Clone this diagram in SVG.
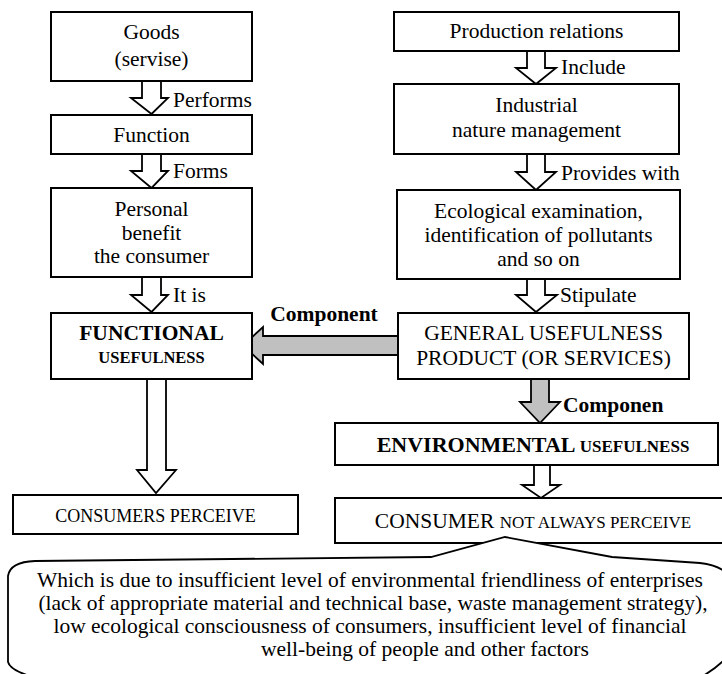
<svg xmlns="http://www.w3.org/2000/svg" width="722" height="674" viewBox="0 0 722 674">
<style>
rect{fill:#fff;stroke:#000;stroke-width:2}
.ar{fill:#fff;stroke:#000;stroke-width:1.8;stroke-linejoin:miter}
.g{fill:#c0c0c0;stroke:#000;stroke-width:1.8}
.co{fill:#fff;stroke:#000;stroke-width:1.8}
</style>
<rect x="0" y="0" width="722" height="674" style="fill:#fff;stroke:none"/>
<g id="connectors">
<polygon class="ar" points="142,81 161,81 161,98 168,98 151.5,114 131,98 142,98"/>
<polygon class="ar" points="142,154 161,154 161,171 168,171 151.5,188 131,171 142,171"/>
<polygon class="ar" points="142,277 161,277 161,295 168,295 151.5,312 131,295 142,295"/>
<polygon class="ar" points="147,379 166,379 166,470 176,470 156,493 137,470 147,470"/>
<polygon class="ar" points="527,51 545,51 545,68 556,68 536,84 516,68 527,68"/>
<polygon class="ar" points="527,154 545,154 545,172 556,172 536,190 516,172 527,172"/>
<polygon class="ar" points="527,279 545,279 545,295 557,295 536,312 516,295 527,295"/>
<polygon class="g" points="531,379 549,379 549,402 560,402 540,423 520,402 531,402"/>
<polygon class="ar" points="534,465 550,465 550,485 560,485 541,498 522,485 534,485"/>
<polygon class="g" points="403,336 263,336 263,327 243,345.5 263,364 263,355 403,355"/>
<text font-family="Liberation Serif" font-size="21.5" x="173" y="107">Performs</text>
<text font-family="Liberation Serif" font-size="21.5" x="173" y="178">Forms</text>
<text font-family="Liberation Serif" font-size="21.5" x="173" y="302">It is</text>
<text font-family="Liberation Serif" font-size="21.5" x="561" y="74">Include</text>
<text font-family="Liberation Serif" font-size="21.5" x="561" y="180">Provides with</text>
<text font-family="Liberation Serif" font-size="21.5" x="560" y="302">Stipulate</text>
<text font-family="Liberation Serif" font-size="21.5" font-weight="bold" x="563" y="412">Componen</text>
<text font-family="Liberation Serif" font-size="21.5" font-weight="bold" text-anchor="middle" x="324" y="321">Component</text>
</g>
<g id="goods">
<rect x="51" y="12" width="201" height="69"/>
<text font-family="Liberation Serif" font-size="21.5" text-anchor="middle" x="151.5" y="39">Goods</text>
<text font-family="Liberation Serif" font-size="21.5" text-anchor="middle" x="151.5" y="66">(servise)</text>
</g>
<g id="function">
<rect x="51" y="115" width="201" height="39"/>
<text font-family="Liberation Serif" font-size="21.5" text-anchor="middle" x="151.5" y="142">Function</text>
</g>
<g id="personal">
<rect x="51" y="188" width="201" height="89"/>
<text font-family="Liberation Serif" font-size="21.5" text-anchor="middle" x="151.5" y="216">Personal</text>
<text font-family="Liberation Serif" font-size="21.5" text-anchor="middle" x="151.5" y="240">benefit</text>
<text font-family="Liberation Serif" font-size="21.5" text-anchor="middle" x="151.5" y="263">the consumer</text>
</g>
<g id="functional">
<rect x="51" y="313" width="201" height="66"/>
<text font-family="Liberation Serif" font-size="21.5" font-weight="bold" text-anchor="middle" x="151.5" y="340">FUNCTIONAL</text>
<text font-family="Liberation Serif" font-size="16.5" font-weight="bold" text-anchor="middle" x="151.5" y="363">USEFULNESS</text>
</g>
<g id="consumers">
<rect x="13" y="495" width="285" height="39"/>
<text font-family="Liberation Serif" font-size="18" text-anchor="middle" x="155.5" y="522">CONSUMERS PERCEIVE</text>
</g>
<g id="production">
<rect x="394" y="12" width="285" height="39"/>
<text font-family="Liberation Serif" font-size="21.5" text-anchor="middle" x="536.5" y="38">Production relations</text>
</g>
<g id="industrial">
<rect x="394" y="84" width="285" height="70"/>
<text font-family="Liberation Serif" font-size="21.5" text-anchor="middle" x="536.5" y="112">Industrial</text>
<text font-family="Liberation Serif" font-size="21.5" text-anchor="middle" x="536.5" y="137">nature management</text>
</g>
<g id="ecological">
<rect x="397" y="190" width="283" height="89"/>
<text font-family="Liberation Serif" font-size="21.5" text-anchor="middle" x="538.5" y="218">Ecological examination,</text>
<text font-family="Liberation Serif" font-size="21.5" text-anchor="middle" x="538.5" y="242">identification of pollutants</text>
<text font-family="Liberation Serif" font-size="21.5" text-anchor="middle" x="538.5" y="266">and so on</text>
</g>
<g id="general">
<rect x="398" y="313" width="291" height="66"/>
<text font-family="Liberation Serif" font-size="21.5" text-anchor="middle" x="543.5" y="340">GENERAL USEFULNESS</text>
<text font-family="Liberation Serif" font-size="21.5" text-anchor="middle" x="543.5" y="365">PRODUCT (OR SERVICES)</text>
</g>
<g id="environmental">
<rect x="335" y="423" width="383" height="42"/>
<text font-family="Liberation Serif" font-size="22" font-weight="bold" text-anchor="middle" x="533" y="452">ENVIRONMENTAL <tspan font-size="17">USEFULNESS</tspan></text>
</g>
<g id="consumer">
<rect x="335" y="498" width="390" height="45"/>
<text font-family="Liberation Serif" font-size="21.5" text-anchor="middle" x="533" y="528">CONSUMER <tspan font-size="17">NOT ALWAYS PERCEIVE</tspan></text>
</g>
<g id="callout">
<path class="co" d="M 8,662 L 8,576 Q 10,562 35,561 L 431,557 L 505,537 L 612,557 L 700,563 Q 716,565 724,571 L 724,660 Q 716,668 703,676 L 30,676 Q 10,670 8,662 Z"/>
<text font-family="Liberation Serif" font-size="21.5" text-anchor="middle" x="370" y="587">Which is due to insufficient level of environmental friendliness of enterprises</text>
<text font-family="Liberation Serif" font-size="21.5" text-anchor="middle" x="373" y="610">(lack of appropriate material and technical base, waste management strategy),</text>
<text font-family="Liberation Serif" font-size="21.5" text-anchor="middle" x="370" y="633">low ecological consciousness of consumers, insufficient level of financial</text>
<text font-family="Liberation Serif" font-size="21.5" x="261" y="656">well-being of people and other factors</text>
</g>
</svg>
